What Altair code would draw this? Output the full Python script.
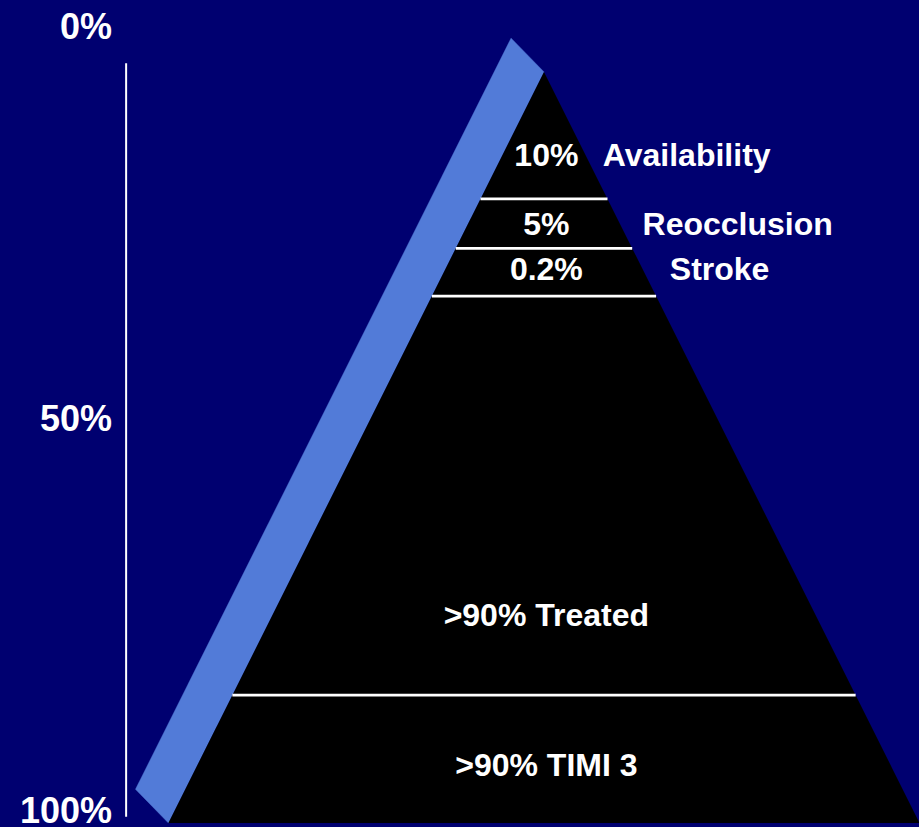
import altair as alt
import pandas as pd

# Depths are measured in % of the vertical scale (0 at the top, 100 at the base);
# horizontal offsets use the same unit, measured from the apex.
apex_depth = 4.2
base_depth = 100.0
edge_slope = 0.5                      # half-width gained per unit of depth
band_shift = (-4.2, -4.3)             # offset of the blue band from the left edge

tier_bounds = [20.4, 26.7, 32.8, 83.7]
tier_values = ["10%", "5%", "0.2%", ">90% Treated", ">90% TIMI 3"]
tier_depths = [16.2, 25.0, 30.7, 74.9, 94.0]
tier_center = 0.3

side_labels = ["Availability", "Reocclusion", "Stroke"]
side_depths = [16.2, 25.0, 30.7]
side_offsets = [18.2, 24.7, 22.4]

axis_labels = ["0%", "50%", "100%"]
axis_values = [0, 50, 100]
axis_line = (-53.3, 3.1, 99.2)        # x, top, bottom
axis_label_x = -55.1

NAVY = "#000070"
BAND = "#527BD8"
FONT = "Liberation Sans"


def half_width(depth):
    return edge_slope * (depth - apex_depth)


xs = alt.Scale(domain=[0, 100], range=[544, 1328], nice=False, zero=False)
ys = alt.Scale(domain=[0, 100], range=[39, 823], nice=False, zero=False)


def X(field, **kw):
    return alt.X(field, type="quantitative", scale=xs, axis=None, **kw)


def Y(field, **kw):
    return alt.Y(field, type="quantitative", scale=ys, axis=None, **kw)


base_half = half_width(base_depth)

# pyramid body
pyramid = pd.DataFrame({
    "d": [apex_depth, base_depth],
    "left": [0.0, -base_half],
    "right": [0.0, base_half],
})

# blue band along the left face (closed polygon)
dx, dy = band_shift
band = pd.DataFrame({
    "u": [0.0, -base_half, -base_half + dx, dx, 0.0],
    "d": [apex_depth, base_depth, base_depth + dy, apex_depth + dy, apex_depth],
    "k": [0, 1, 2, 3, 4],
})

bounds = pd.DataFrame({
    "d": tier_bounds,
    "left": [-half_width(b) for b in tier_bounds],
    "right": [half_width(b) for b in tier_bounds],
})

tiers = pd.DataFrame({"label": tier_values, "d": tier_depths, "u": tier_center})
sides = pd.DataFrame({"label": side_labels, "d": side_depths, "u": side_offsets})
axis_df = pd.DataFrame({"label": axis_labels, "d": axis_values, "u": axis_label_x})
axis_rule = pd.DataFrame({"u": [axis_line[0]], "top": [axis_line[1]], "bottom": [axis_line[2]]})

band_layer = alt.Chart(band).mark_line(
    fill=BAND, stroke=BAND, strokeWidth=0.5, interpolate="linear"
).encode(x=X("u"), y=Y("d"), order="k:Q")

pyramid_layer = alt.Chart(pyramid).mark_area(
    orient="horizontal", color="black", interpolate="linear"
).encode(y=Y("d"), x=X("left"), x2="right")

bounds_layer = alt.Chart(bounds).mark_rule(
    color="white", strokeWidth=2.8
).encode(y=Y("d"), x=X("left"), x2="right")

tier_text = alt.Chart(tiers).mark_text(
    color="white", font=FONT, fontWeight="bold", fontSize=32,
    align="center", baseline="alphabetic"
).encode(x=X("u"), y=Y("d"), text="label:N")

side_text = alt.Chart(sides).mark_text(
    color="white", font=FONT, fontWeight="bold", fontSize=32,
    align="center", baseline="alphabetic"
).encode(x=X("u"), y=Y("d"), text="label:N")

axis_rule_layer = alt.Chart(axis_rule).mark_rule(
    color="white", strokeWidth=2
).encode(x=X("u"), y=Y("top"), y2="bottom")

axis_text = alt.Chart(axis_df).mark_text(
    color="white", font=FONT, fontWeight="bold", fontSize=36,
    align="right", baseline="alphabetic"
).encode(x=X("u"), y=Y("d"), text="label:N")

chart = alt.layer(
    band_layer, pyramid_layer, bounds_layer, tier_text, side_text,
    axis_rule_layer, axis_text,
).properties(
    width=919, height=827,
    background=NAVY,
    padding=0,
    autosize=alt.AutoSizeParams(type="none"),
).configure_view(stroke=None)

chart.save("out.html", embed_options={"renderer": "svg", "actions": False})
